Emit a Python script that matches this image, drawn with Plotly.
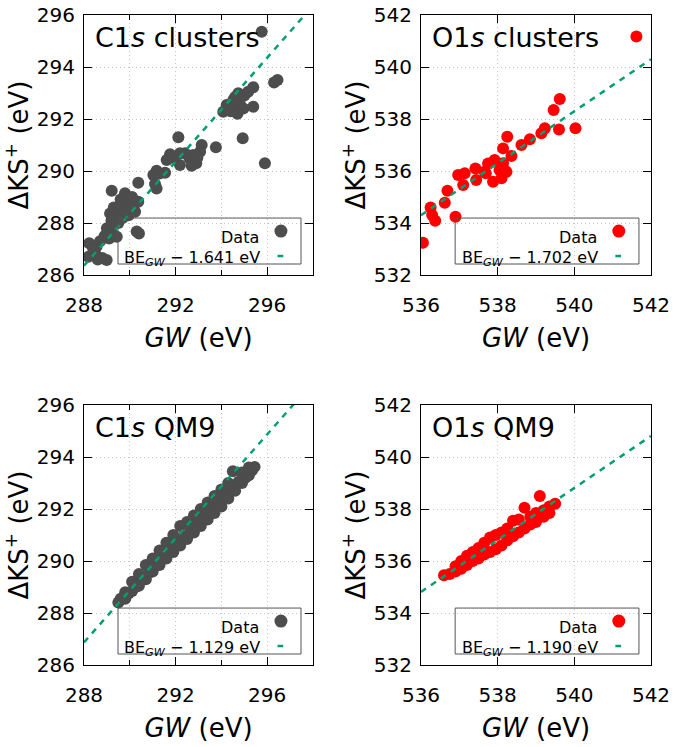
import plotly.graph_objects as go

# ---------------- data ----------------
C1S_CLUSTERS_GW = [295.76, 296.30, 296.45, 295.90, 294.93, 293.76,
                   295.39, 295.17, 294.74, 294.52, 294.23, 294.08, 294.52, 294.96, 295.39, 294.80, 294.40, 294.70, 295.00, 294.60,
                   293.14, 293.07, 292.77, 292.60, 292.41, 292.12, 292.19, 292.19, 291.76, 291.61, 291.90, 292.90, 292.95, 292.70,
                   291.54, 291.17, 291.03, 291.17, 291.10, 291.30,
                   290.37, 290.37, 290.23, 290.30, 290.40, 289.21,
                   288.19, 288.23, 288.50, 288.55, 288.80, 288.99, 288.70, 288.90, 289.10, 289.00, 289.20, 289.43, 289.30, 289.14,
                   289.40, 289.50, 289.60, 289.70, 289.86, 289.79, 289.90, 290.00, 290.10, 289.50, 289.70, 289.30, 289.60, 290.05,
                   289.95, 288.60, 288.40, 289.20]
C1S_CLUSTERS_KS = [295.36, 293.40, 293.50, 290.30, 291.26, 290.91,
                   293.22, 293.05, 292.99, 292.73, 292.54, 292.28, 292.40, 292.40, 292.47, 292.60, 292.30, 292.20, 292.90, 292.85,
                   291.00, 290.74, 290.62, 290.50, 290.68, 291.30, 290.68, 290.23, 290.64, 290.42, 290.50, 290.30, 290.50, 290.20,
                   289.93, 290.01, 289.85, 289.33, 289.50, 289.90,
                   289.55, 288.82, 288.43, 287.67, 287.60, 289.24,
                   286.70, 287.22, 286.80, 287.10, 286.65, 286.58, 287.30, 287.50, 287.40, 287.80, 287.70, 287.47, 288.00, 288.37,
                   288.30, 288.60, 288.40, 288.70, 288.88, 289.14, 288.60, 288.80, 289.00, 288.00, 288.20, 288.60, 288.90, 288.50,
                   288.30, 286.60, 287.00, 288.10]

O1S_CLUSTERS_GW = [541.62, 536.05, 536.25, 536.29, 536.37, 536.62, 536.69, 536.90, 536.97, 537.10, 537.14, 537.42,
                   537.44, 537.66, 537.75, 537.69, 537.88, 537.92, 538.05, 538.14, 538.10, 538.23, 538.14, 538.25,
                   538.36, 538.62, 538.84, 539.14, 539.23, 539.46, 539.62, 539.60, 540.03]
O1S_CLUSTERS_KS = [541.17, 533.24, 534.60, 534.31, 534.09, 534.78, 535.24, 534.24, 535.85, 535.46, 535.91, 536.10,
                   535.65, 535.97, 536.29, 535.91, 535.59, 536.42, 536.04, 536.30, 535.72, 535.97, 536.87, 537.32,
                   536.58, 537.00, 537.22, 537.45, 537.64, 538.35, 538.77, 537.60, 537.64]

C1S_QM9_GW = [289.50, 289.60, 289.80, 289.80, 289.95, 290.10, 290.10, 290.25, 290.40, 290.40, 290.55, 290.70, 290.70,
              290.85, 291.00, 291.00, 291.15, 291.30, 291.30, 291.45, 291.60, 291.60, 291.75, 291.90, 291.90, 292.05,
              292.20, 292.20, 292.35, 292.50, 292.50, 292.65, 292.80, 292.80, 292.95, 293.10, 293.10, 293.25, 293.40,
              293.40, 293.55, 293.70, 293.70, 293.85, 294.00, 294.00, 294.15, 294.30, 294.30, 294.45, 294.50, 294.60,
              294.75, 294.90, 294.90, 295.05, 295.20, 295.20, 295.35, 295.45]
C1S_QM9_KS = [288.40, 288.55, 288.55, 288.80, 288.75, 288.85, 289.20, 289.00, 289.05, 289.50, 289.30, 289.30, 289.85,
              289.55, 289.60, 290.10, 289.85, 289.85, 290.40, 290.10, 290.10, 290.70, 290.40, 290.35, 291.00, 290.70,
              290.60, 291.35, 290.95, 290.85, 291.50, 291.20, 291.10, 291.75, 291.45, 291.35, 292.00, 291.70, 291.60,
              292.25, 291.95, 291.85, 292.50, 292.20, 292.10, 292.75, 292.45, 292.40, 293.00, 292.70, 293.45, 292.70,
              293.05, 293.00, 293.40, 293.20, 293.30, 293.60, 293.50, 293.62]

O1S_QM9_GW = [536.60, 536.75, 536.90, 536.90, 537.05, 537.05, 537.20, 537.20, 537.35, 537.35, 537.50, 537.50, 537.65,
              537.65, 537.80, 537.80, 537.95, 537.95, 538.10, 538.10, 538.25, 538.25, 538.40, 538.40, 538.55, 538.55,
              538.70, 538.70, 538.85, 538.85, 539.00, 539.00, 539.10, 539.20, 539.20, 539.35, 539.35, 539.50]
O1S_QM9_KS = [535.45, 535.50, 535.60, 535.80, 535.70, 536.00, 535.85, 536.20, 536.00, 536.35, 536.10, 536.50, 536.25,
              536.70, 536.35, 536.90, 536.45, 537.00, 536.60, 537.10, 536.80, 537.25, 536.95, 537.55, 537.10, 537.60,
              537.25, 538.05, 537.40, 537.70, 537.50, 537.85, 538.50, 537.70, 537.95, 537.85, 538.10, 538.20]

FIT_OFFSETS = [1.641, 1.702, 1.129, 1.190]
PANEL_TITLES = ["C1<i>s</i> clusters", "O1<i>s</i> clusters", "C1<i>s</i> QM9", "O1<i>s</i> QM9"]
X_TICKS_C = [288, 292, 296]
X_MINOR_C = [290, 294, 298]
X_TICKS_O = [536, 538, 540, 542]
Y_TICKS_C = [286, 288, 290, 292, 294, 296]
Y_TICKS_O = [532, 534, 536, 538, 540, 542]

# ---------------- styling ----------------
GRAY = "#4d4d4d"
RED = "#ff0000"
GREEN = "#009e73"
GRID = "#c4c4c4"
FONT = "DejaVu Sans"
W, H = 696, 747

panels = [
    dict(gw=C1S_CLUSTERS_GW, ks=C1S_CLUSTERS_KS, color=GRAY, xr=[288, 298], yr=[286, 296],
         xt=X_TICKS_C, yt=Y_TICKS_C, minor=True, px=(84, 313), py=(15, 275)),
    dict(gw=O1S_CLUSTERS_GW, ks=O1S_CLUSTERS_KS, color=RED, xr=[536, 542], yr=[532, 542],
         xt=X_TICKS_O, yt=Y_TICKS_O, minor=False, px=(421, 651), py=(15, 275)),
    dict(gw=C1S_QM9_GW, ks=C1S_QM9_KS, color=GRAY, xr=[288, 298], yr=[286, 296],
         xt=X_TICKS_C, yt=Y_TICKS_C, minor=True, px=(84, 313), py=(405, 665)),
    dict(gw=O1S_QM9_GW, ks=O1S_QM9_KS, color=RED, xr=[536, 542], yr=[532, 542],
         xt=X_TICKS_O, yt=Y_TICKS_O, minor=False, px=(421, 651), py=(405, 665)),
]

fig = go.Figure()
shapes = []
annotations = []
layout = {}

for i, p in enumerate(panels):
    n = "" if i == 0 else str(i + 1)
    xa, ya = "x" + n, "y" + n
    off = FIT_OFFSETS[i]

    fig.add_trace(go.Scatter(x=p["gw"], y=p["ks"], mode="markers", xaxis=xa, yaxis=ya,
                             marker=dict(size=12, color=p["color"], line=dict(width=0)),
                             showlegend=False, name="Data"))
    fit_x = list(p["xr"])
    fit_y = [v - off for v in fit_x]
    fig.add_trace(go.Scatter(x=fit_x, y=fit_y, mode="lines", xaxis=xa, yaxis=ya,
                             line=dict(color=GREEN, width=2.5, dash="6px,6px"),
                             showlegend=False, name=f"BE_GW - {off:.3f} eV"))

    common = dict(showline=True, linecolor="black", linewidth=1, mirror="ticks",
                  ticks="inside", ticklen=8, tickwidth=1, tickcolor="black", automargin=False,
                  showgrid=True, gridcolor=GRID, gridwidth=1, griddash="1px,3px",
                  zeroline=False, tickfont=dict(family=FONT, size=20, color="black"))
    xdom = [p["px"][0] / W, p["px"][1] / W]
    ydom = [1 - p["py"][1] / H, 1 - p["py"][0] / H]
    xaxis = dict(common, domain=xdom, anchor=ya, range=p["xr"], tickmode="array", tickvals=p["xt"],
                 ticklabelstandoff=12,
                 title=dict(text="<i>GW</i> (eV)", font=dict(family=FONT, size=26, color="black"), standoff=12))
    if p["minor"]:
        xaxis["minor"] = dict(tickmode="array", tickvals=X_MINOR_C, ticks="inside", ticklen=5,
                              tickcolor="black", showgrid=True, gridcolor=GRID, griddash="1px,3px")
    yaxis = dict(common, domain=ydom, anchor=xa, range=p["yr"], tickmode="array", tickvals=p["yt"],
                 ticklabelstandoff=4,
                 title=dict(text="ΔKS<sup>+</sup> (eV)", font=dict(family=FONT, size=26, color="black"), standoff=0))
    layout["xaxis" + n] = xaxis
    layout["yaxis" + n] = yaxis

    xd, yd = xa + " domain", ya + " domain"
    annotations.append(dict(text=PANEL_TITLES[i], xref=xd, yref=yd, x=0.04, y=0.98,
                            xanchor="left", yanchor="top", showarrow=False,
                            font=dict(family=FONT, size=27, color="black")))
    # legend box (gnuplot style: text left, sample right)
    shapes.append(dict(type="rect", xref=xd, yref=yd, x0=0.1485, x1=0.9476, y0=0.0423, y1=0.219,
                       line=dict(color="#555555", width=1), fillcolor="rgba(0,0,0,0)"))
    annotations.append(dict(text="Data", xref=xd, yref=yd, x=0.775, y=0.145, xanchor="right",
                            yanchor="middle", showarrow=False,
                            font=dict(family=FONT, size=16, color="black")))
    annotations.append(dict(text=f"BE<sub><i>GW</i></sub> − {off:.3f} eV", xref=xd, yref=yd, x=0.778, y=0.064,
                            xanchor="right", yanchor="middle", showarrow=False,
                            font=dict(family=FONT, size=16, color="black")))
    shapes.append(dict(type="circle", xref=xd, yref=yd, xsizemode="pixel", ysizemode="pixel",
                       xanchor=0.860, yanchor=0.169, x0=-6.5, x1=6.5, y0=-6.5, y1=6.5,
                       fillcolor=p["color"], line=dict(width=0)))
    shapes.append(dict(type="line", xref=xd, yref=yd, x0=0.845, x1=0.870, y0=0.073, y1=0.073,
                       line=dict(color=GREEN, width=2.5)))

fig.update_layout(width=W, height=H, margin=dict(l=0, r=0, t=0, b=0),
                  paper_bgcolor="white", plot_bgcolor="white",
                  font=dict(family=FONT, color="black"),
                  shapes=shapes, annotations=annotations, showlegend=False, **layout)

fig.write_html("out.html")
